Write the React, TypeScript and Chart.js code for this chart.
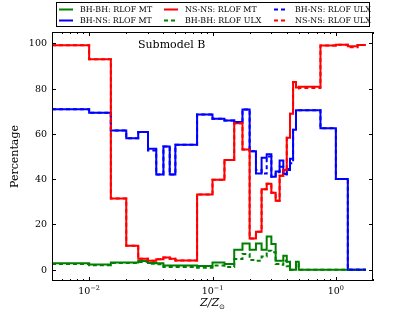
import React, { useEffect, useRef } from "react";
import { Chart, registerables } from "chart.js";

Chart.register(...registerables);

const W = 415;
const H = 312;
const SERIF = '"DejaVu Serif", "Liberation Serif", serif';

// metallicity grid (Z/Zsun), step edges (steps-post)
const zGrid = [
  0.005, 0.01, 0.015, 0.02, 0.025, 0.03, 0.035, 0.04, 0.045, 0.05, 0.075, 0.1,
  0.125, 0.15, 0.175, 0.2, 0.225, 0.25, 0.275, 0.3, 0.325, 0.35, 0.375, 0.4,
  0.425, 0.45, 0.475, 0.5, 0.75, 1.0, 1.25, 1.5, 1.75,
];

const seriesLabels = [
  "BH-BH: RLOF MT",
  "BH-NS: RLOF MT",
  "NS-NS: RLOF MT",
  "BH-BH: RLOF ULX",
  "BH-NS: RLOF ULX",
  "NS-NS: RLOF ULX",
];

const bhbhMT = [
  2.8, 2.3, 3.2, 3.2, 3.8, 3.0, 2.8, 1.8, 1.8, 1.8, 1.6, 3.2, 2.5, 8.8, 11.6,
  8.8, 11.6, 8.8, 14.7, 11.4, 4.0, 4.0, 6.2, 3.5, 0, 0, 3.5, 0, 0, 0, 0, 0,
];
const bhnsMT = [
  70.9, 69.3, 61.5, 58.1, 60.8, 53.4, 42, 54.4, 42, 55.2, 68.5, 66.7, 65.9,
  65.2, 70.8, 52.3, 42.5, 49.5, 51, 41, 43.4, 48.2, 42.3, 44.5, 49, 61.8, 70.4,
  70.4, 62.5, 40.1, 0, 0,
];
const nsnsMT = [
  99.2, 93, 31.5, 10.6, 4.8, 4.0, 4.6, 5.4, 4.8, 4.1, 33.2, 39.7, 48.4, 64.7,
  53.1, 13.8, 16.8, 35.5, 38, 34, 30.5, 41.5, 44, 58.3, 68.9, 82.9, 80.5, 80.8,
  99, 99.4, 98.7, 99.3,
];
const bhbhULX = [
  2.5, 2.0, 2.9, 2.9, 3.4, 2.6, 2.4, 1.2, 1.2, 1.2, 0.8, 1.8, 1.2, 4.7, 6.9,
  4.3, 4.0, 5.8, 8.4, 7.7, 2.5, 2.2, 4.0, 1.5, 0, 0, 2.5, 0, 0, 0, 0, 0,
];
const bhnsULX = [
  70.9, 69.3, 61.5, 58.1, 60.8, 52.6, 42, 54.4, 42, 55.2, 68.5, 66.7, 65.9,
  65.2, 70.8, 52.3, 44, 42.5, 50, 41, 43, 45.5, 42, 44, 47, 61.8, 70.4, 70.4,
  62.5, 40.1, 0, 0,
];
const nsnsULX = [
  99.2, 93, 31.5, 10.6, 4.8, 4.0, 4.6, 5.4, 4.8, 4.1, 33.2, 39.7, 48.4, 64.7,
  53.1, 13.8, 16.8, 35.5, 38, 34, 30.5, 41.5, 44, 58.3, 68.9, 82.9, 80.0, 80.3,
  99, 99.4, 98.3, 99.3,
];

const yTicks = [0, 20, 40, 60, 80, 100];
const xMajorTicks = [0.01, 0.1, 1];
const xTickExponents = ["\u22122", "\u22121", "0"];

const GREEN = "#008000";
const BLUE = "#0000ff";
const RED = "#ff0000";
const DASH = [4, 3];

const seriesValues = [bhbhMT, bhnsMT, nsnsMT, bhbhULX, bhnsULX, nsnsULX];
const seriesColors = [GREEN, BLUE, RED, GREEN, BLUE, RED];
const seriesDashed = [false, false, false, true, true, true];

function toPoints(vals: number[]) {
  return zGrid.map((z, i) => ({
    x: z,
    y: i < vals.length ? vals[i] : vals[vals.length - 1],
  }));
}

const decorPlugin = {
  id: "decor",
  afterDatasetsDraw(chart: any) {
    const { ctx, chartArea: a, scales } = chart;
    const xs = scales.x;
    const ys = scales.y;
    ctx.save();
    ctx.strokeStyle = "#000";
    ctx.fillStyle = "#000";
    ctx.lineWidth = 1;
    ctx.setLineDash([]);
    // frame
    ctx.strokeRect(a.left + 0.5, a.top + 0.5, a.right - a.left - 1, a.bottom - a.top - 1);

    // y ticks
    ctx.font = `9.5px ${SERIF}`;
    ctx.textAlign = "right";
    ctx.textBaseline = "middle";
    for (const v of yTicks) {
      const py = Math.round(ys.getPixelForValue(v)) + 0.5;
      ctx.beginPath();
      ctx.moveTo(a.left, py);
      ctx.lineTo(a.left + 4, py);
      ctx.moveTo(a.right, py);
      ctx.lineTo(a.right - 4, py);
      ctx.stroke();
      ctx.fillText(String(v), a.left - 5, py);
    }

    // x ticks (log)
    for (let e = -3; e <= 0; e++) {
      for (let k = 1; k <= 9; k++) {
        const v = k * Math.pow(10, e);
        if (v < xs.min * 0.999 || v > xs.max * 1.001) continue;
        const px = Math.round(xs.getPixelForValue(v)) + 0.5;
        const len = k === 1 ? 4 : 2;
        ctx.beginPath();
        ctx.moveTo(px, a.bottom);
        ctx.lineTo(px, a.bottom - len);
        ctx.moveTo(px, a.top);
        ctx.lineTo(px, a.top + len);
        ctx.stroke();
      }
    }
    ctx.textAlign = "left";
    ctx.textBaseline = "alphabetic";
    xMajorTicks.forEach((v, i) => {
      const px = xs.getPixelForValue(v);
      ctx.font = `9.5px ${SERIF}`;
      const wb = ctx.measureText("10").width;
      ctx.font = `6.5px ${SERIF}`;
      const we = ctx.measureText(xTickExponents[i]).width;
      const x0 = px - (wb + we) / 2;
      ctx.font = `9.5px ${SERIF}`;
      ctx.fillText("10", x0, a.bottom + 13);
      ctx.font = `6.5px ${SERIF}`;
      ctx.fillText(xTickExponents[i], x0 + wb, a.bottom + 8.5);
    });

    // x title: Z/Z_sun
    const cx = (a.left + a.right) / 2;
    ctx.font = `italic 11px ${SERIF}`;
    const wz = ctx.measureText("Z/Z").width;
    ctx.font = `7px "DejaVu Sans", sans-serif`;
    const ws = ctx.measureText("\u2299").width;
    const xz = cx - (wz + ws) / 2;
    ctx.font = `italic 11px ${SERIF}`;
    ctx.fillText("Z/Z", xz, 306);
    ctx.font = `7px "DejaVu Sans", sans-serif`;
    ctx.fillText("\u2299", xz + wz, 309);

    // y title
    ctx.save();
    ctx.translate(18, (a.top + a.bottom) / 2);
    ctx.rotate(-Math.PI / 2);
    ctx.font = `11px ${SERIF}`;
    ctx.textAlign = "center";
    ctx.textBaseline = "alphabetic";
    ctx.fillText("Percentage", 0, 0);
    ctx.restore();

    // annotation
    ctx.font = `11px ${SERIF}`;
    ctx.textAlign = "left";
    ctx.fillText("Submodel B", 138, 47.5);

    // legend
    ctx.lineWidth = 1;
    ctx.strokeStyle = "#000";
    ctx.strokeRect(56.5, 2.5, 313, 24);
    const colX = [80, 185, 295];
    const rowY = [9.5, 20.5];
    ctx.font = `7.9px ${SERIF}`;
    ctx.textBaseline = "middle";
    seriesLabels.forEach((lab, i) => {
      const c = Math.floor(i / 2);
      const r = i % 2;
      const tx = colX[c];
      const ty = rowY[r];
      ctx.strokeStyle = seriesColors[i];
      ctx.lineWidth = 2;
      ctx.setLineDash(seriesDashed[i] ? DASH : []);
      ctx.beginPath();
      ctx.moveTo(tx - 21, ty);
      ctx.lineTo(tx - 7, ty);
      ctx.stroke();
      ctx.setLineDash([]);
      ctx.fillStyle = "#000";
      ctx.fillText(lab, tx, ty + 0.5);
    });
    ctx.restore();
  },
};

export default function App() {
  const ref = useRef<HTMLCanvasElement | null>(null);
  useEffect(() => {
    if (!ref.current) return;
    const datasets = seriesValues.map((vals, i) => ({
      label: seriesLabels[i],
      data: toPoints(vals),
      borderColor: seriesColors[i],
      backgroundColor: seriesColors[i],
      borderWidth: 2,
      borderDash: seriesDashed[i] ? DASH : [],
      pointRadius: 0,
      stepped: "before" as const,
      fill: false,
      tension: 0,
      order: 6 - i,
    }));
    const chart = new Chart(ref.current, {
      type: "line",
      data: { datasets },
      options: {
        animation: false,
        responsive: false,
        devicePixelRatio: 1,
        layout: { padding: { left: 52, right: 42, top: 32, bottom: 31 } },
        scales: {
          x: { type: "logarithmic", min: 0.005, max: 2, display: false },
          y: { type: "linear", min: -5, max: 105, display: false },
        },
        plugins: { legend: { display: false }, tooltip: { enabled: false } },
      },
      plugins: [decorPlugin],
    });
    return () => chart.destroy();
  }, []);
  return (
    <div style={{ position: "absolute", left: 0, top: 0, width: W, height: H, background: "#fff" }}>
      <canvas ref={ref} width={W} height={H} style={{ width: W, height: H, display: "block" }} />
    </div>
  );
}
